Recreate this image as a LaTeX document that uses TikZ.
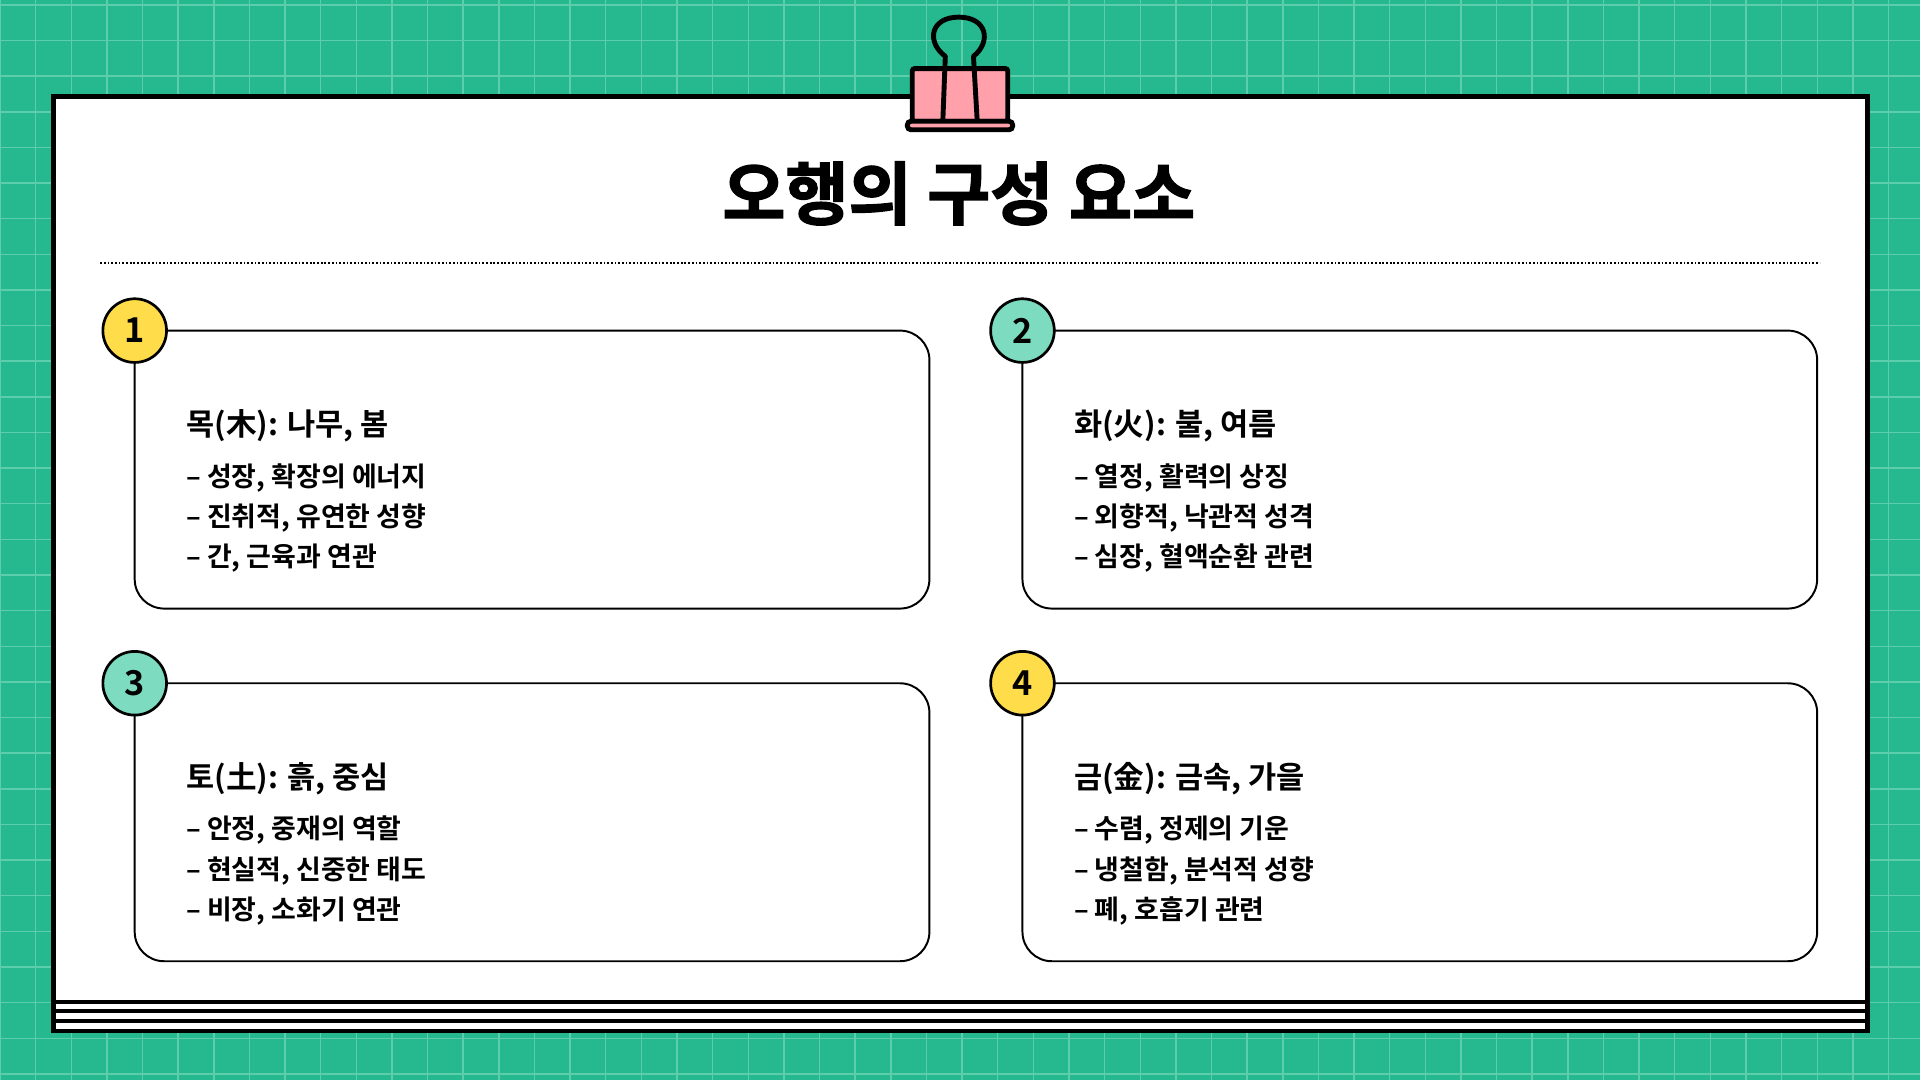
\documentclass[tikz,border=0pt]{standalone}
\usepackage{fontspec}
\setmainfont{Noto Sans CJK KR}[BoldFont={Noto Sans CJK KR Bold}]
\begin{document}
\begin{tikzpicture}[x=1pt,y=-1pt,
  card/.style={draw=black,line width=1.6pt,rounded corners=24pt,fill=white},
  badge/.style={circle,draw=black,line width=2.2pt,minimum size=52pt,inner sep=0pt,font=\bfseries\fontsize{28}{30}\selectfont},
  head/.style={anchor=west,font=\bfseries\fontsize{25}{28}\selectfont,inner sep=0pt},
  item/.style={anchor=west,font=\bfseries\fontsize{22}{24}\selectfont,inner sep=0pt}]
\definecolor{bg}{HTML}{26B98F}
\definecolor{gridc}{HTML}{5ECDAB}
\definecolor{yel}{HTML}{FFDC4A}
\definecolor{tea}{HTML}{7DDBC0}
\definecolor{pink}{HTML}{FFA0AA}
\fill[bg] (0,0) rectangle (1568,882);
\useasboundingbox (0,0) rectangle (1568,882);
\foreach \i in {0,...,54} {\draw[gridc,line width=1.2pt] (\i*29.1,0) -- (\i*29.1,882);}
\foreach \j in {0,...,30} {\draw[gridc,line width=1.2pt] (0,\j*29.1+4) -- (1568,\j*29.1+4);}
% frame
\draw[fill=white,line width=4pt] (44,79) rectangle (1525,842);
\foreach \yy in {818,826,834} {\draw[line width=3.2pt] (44,\yy) -- (1525,\yy);}
% clip
\draw[line width=4pt,fill=pink,rounded corners=2pt] (745,56) rectangle (823,99);
\draw[line width=4pt,fill=pink,rounded corners=3pt] (741,99) rectangle (827,106);
\draw[line width=4pt,line join=round] (770,98) -- (772,46) .. controls (756,34) and (760,14) .. (783,14) .. controls (806,14) and (810,34) .. (795,46) -- (798,98);
% title
\node[font=\bfseries\fontsize{56}{60}\selectfont\addfontfeature{FakeBold=2}] (title) at (783,158) {오행의 구성 요소};
\draw[line width=1.6pt,dash pattern=on 1.4pt off 1.6pt] (82,215) -- (1486,215);
% cards
\newcommand\mycard[8]{%
  \draw[card] (#1,#2) rectangle ++(649,227);
  \node[badge,fill=#3] (b#4) at (#1,#2) {#4};
  \node[head] (h#4) at (#1+42,#2+78) {#5};
  \node[item] (i#4a) at (#1+42,#2+120) {– #6};
  \node[item] (i#4b) at (#1+42,#2+153) {– #7};
  \node[item] (i#4c) at (#1+42,#2+186) {– #8};}
\mycard{110}{270}{yel}{1}{목(木): 나무, 봄}{성장, 확장의 에너지}{진취적, 유연한 성향}{간, 근육과 연관}
\mycard{835}{270}{tea}{2}{화(火): 불, 여름}{열정, 활력의 상징}{외향적, 낙관적 성격}{심장, 혈액순환 관련}
\mycard{110}{558}{tea}{3}{토(土): 흙, 중심}{안정, 중재의 역할}{현실적, 신중한 태도}{비장, 소화기 연관}
\mycard{835}{558}{yel}{4}{금(金): 금속, 가을}{수렴, 정제의 기운}{냉철함, 분석적 성향}{폐, 호흡기 관련}
\end{tikzpicture}
\end{document}
